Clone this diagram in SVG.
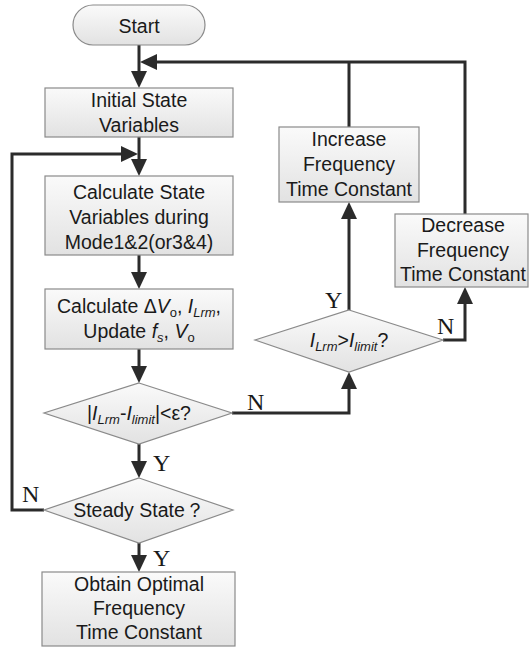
<svg xmlns="http://www.w3.org/2000/svg" width="530" height="652" viewBox="0 0 530 652">
<defs>
<linearGradient id="g" x1="0" y1="0" x2="0" y2="1">
<stop offset="0" stop-color="#fafafa"/>
<stop offset="1" stop-color="#e2e2e2"/>
</linearGradient>
<marker id="ah" markerUnits="userSpaceOnUse" markerWidth="17" markerHeight="16" refX="9" refY="8" orient="auto" viewBox="0 0 17 16">
<path d="M0,0 L17,8 L0,16 z" fill="#2b2b2b"/>
</marker>
<style>
.n{fill:url(#g);stroke:#8a8a8a;stroke-width:1.2}
.t{font-family:"Liberation Sans",Arial,sans-serif;font-size:19.5px;fill:#1a1a1a;text-anchor:middle}
.s{font-size:13px}
.i{font-style:italic}
.l{font-family:"Liberation Serif","Times New Roman",serif;font-size:24px;fill:#1a1a1a}
.c{fill:none;stroke:#2b2b2b;stroke-width:3}
.a{marker-end:url(#ah)}
</style>
</defs>
<rect width="530" height="652" fill="#ffffff"/>
<g id="connectors">
<path class="c a" d="M139,45 V80"/>
<path class="c" d="M349,127 V62 M465,214 V62 H349"/>
<path class="c a" d="M349,62 H148"/>
<path class="c a" d="M139,137 V168"/>
<path class="c a" d="M44,510 H12 V154 H130"/>
<path class="c a" d="M139,255 V281"/>
<path class="c a" d="M139,349 V375"/>
<path class="c a" d="M139,444 V470"/>
<path class="c a" d="M139,543 V564"/>
<path class="c a" d="M232,413 H349 V380"/>
<path class="c a" d="M349,310 V210"/>
<path class="c a" d="M443,340 H465 V295"/>
</g>
<g id="start">
<rect class="n" x="73" y="5" width="132" height="40" rx="20" ry="20"/>
<text class="t" x="139" y="33">Start</text>
</g>
<g id="init">
<rect class="n" x="45" y="88" width="188" height="49"/>
<text class="t" x="139" y="107">Initial State</text>
<text class="t" x="139" y="132">Variables</text>
</g>
<g id="calcstate">
<rect class="n" x="45" y="176" width="188" height="79"/>
<text class="t" x="139" y="199">Calculate State</text>
<text class="t" x="139" y="224">Variables during</text>
<text class="t" x="139" y="249">Mode1&amp;2(or3&amp;4)</text>
</g>
<g id="calcdv">
<rect class="n" x="45" y="289" width="188" height="60"/>
<text class="t" x="139" y="313">Calculate Δ<tspan class="i">V</tspan><tspan class="s" dy="4">o</tspan><tspan dy="-4">, </tspan><tspan class="i">I</tspan><tspan class="s i" dy="4">Lrm</tspan><tspan dy="-4">,</tspan></text>
<text class="t" x="139" y="338">Update <tspan class="i">f</tspan><tspan class="s i" dy="4">s</tspan><tspan dy="-4">, </tspan><tspan class="i">V</tspan><tspan class="s" dy="4">o</tspan></text>
</g>
<g id="check1">
<polygon class="n" points="139,383 232,413 139,444 44,413"/>
<text class="t" x="139" y="420">|<tspan class="i">I</tspan><tspan class="s i" dy="4">Lrm</tspan><tspan dy="-4">-</tspan><tspan class="i">I</tspan><tspan class="s i" dy="4">limit</tspan><tspan dy="-4">|&lt;ε?</tspan></text>
</g>
<g id="steady">
<polygon class="n" points="139,478 233,510 139,543 44,510"/>
<text class="t" x="139" y="517">Steady State？</text>
</g>
<g id="obtain">
<rect class="n" x="42" y="572" width="193" height="74"/>
<text class="t" x="139" y="591">Obtain Optimal</text>
<text class="t" x="139" y="615">Frequency</text>
<text class="t" x="139" y="639">Time Constant</text>
</g>
<g id="increase">
<rect class="n" x="279" y="127" width="140" height="75"/>
<text class="t" x="349" y="146">Increase</text>
<text class="t" x="349" y="171">Frequency</text>
<text class="t" x="349" y="196">Time Constant</text>
</g>
<g id="decrease">
<rect class="n" x="395" y="214" width="133" height="73"/>
<text class="t" x="463" y="232">Decrease</text>
<text class="t" x="463" y="257">Frequency</text>
<text class="t" x="463" y="281">Time Constant</text>
</g>
<g id="check2">
<polygon class="n" points="349,310 443,340 349,372 255,340"/>
<text class="t" x="349" y="347"><tspan class="i">I</tspan><tspan class="s i" dy="4">Lrm</tspan><tspan dy="-4">&gt;</tspan><tspan class="i">I</tspan><tspan class="s i" dy="4">limit</tspan><tspan dy="-4">?</tspan></text>
</g>
<g id="labels">
<text class="l" x="153" y="471">Y</text>
<text class="l" x="153" y="566">Y</text>
<text class="l" x="22" y="502">N</text>
<text class="l" x="247" y="410">N</text>
<text class="l" x="325" y="308">Y</text>
<text class="l" x="437" y="334">N</text>
</g>
</svg>
